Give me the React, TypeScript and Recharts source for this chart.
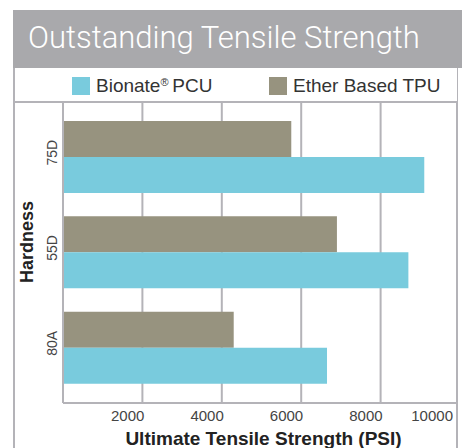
import React from 'react';
import { BarChart, Bar, XAxis, YAxis, CartesianGrid } from 'recharts';

const categories = ['75D', '55D', '80A'];
const etherTPU = [5750, 6900, 4300];
const bionatePCU = [9100, 8700, 6650];
const xTicks = [2000, 4000, 6000, 8000, 10000];
const seriesNames = ['Bionate\u00AE PCU', 'Ether Based TPU'];
const titleText = 'Outstanding Tensile Strength';
const xTitle = 'Ultimate Tensile Strength (PSI)';
const yTitle = 'Hardness';

const BIONATE = '#79cbdd';
const ETHER = '#97937f';
const FRAME = '#a9a9ac';
const GRID = '#b4b3b8';
const FONT = '"Liberation Sans", Arial, Helvetica, sans-serif';

const data = categories.map((c, i) => ({
  hardness: c,
  ether: etherTPU[i],
  bionate: bionatePCU[i],
}));

const XTick = (props: any) => {
  const { x, y, payload, index } = props;
  const last = index === xTicks.length - 1;
  return (
    <text
      x={last ? x - 7 : x + 2}
      y={y}
      dy={10}
      textAnchor="end"
      fontSize={15}
      fontFamily={FONT}
      fill="#444"
    >
      {payload.value}
    </text>
  );
};

const YTick = (props: any) => {
  const { y, payload } = props;
  const bx = 57;
  const by = y - 4;
  return (
    <text
      x={bx}
      y={by}
      textAnchor="middle"
      transform={`rotate(-90, ${bx}, ${by})`}
      fontSize={14}
      fontFamily={FONT}
      fill="#444"
    >
      {payload.value}
    </text>
  );
};

const renderName = (name: string) => {
  const parts = name.split('\u00AE');
  if (parts.length < 2) return name;
  return (
    <>
      {parts[0]}
      <span style={{ fontSize: 11, verticalAlign: 'top', lineHeight: '11px' }}>{'\u00AE'}</span>
      {parts[1].trimStart().length !== parts[1].length ? '\u2009' + parts[1].trimStart() : parts[1]}
    </>
  );
};

export default function App() {
  return (
    <div style={{ position: 'absolute', left: 0, top: 0, width: 462, height: 448, background: '#fff', overflow: 'hidden' }}>
      <BarChart
        width={462}
        height={448}
        data={data}
        layout="vertical"
        margin={{ top: 103, right: 2, bottom: 15, left: 13 }}
        barSize={36}
        barGap={0}
      >
        <CartesianGrid horizontal={false} stroke={GRID} strokeWidth={2} strokeDasharray="" />
        <XAxis
          type="number"
          domain={[0, 10000]}
          ticks={xTicks}
          height={30}
          tickLine={false}
          axisLine={{ stroke: GRID, strokeWidth: 2 }}
          tick={<XTick />}
          interval={0}
          label={{
            content: (p: any) => {
              const vb = p.viewBox;
              return (
                <text
                  x={vb.x + vb.width / 2 + 2}
                  y={vb.y + 42}
                  textAnchor="middle"
                  fontSize={19}
                  fontWeight="bold"
                  fontFamily={FONT}
                  fill="#222"
                >
                  {xTitle}
                </text>
              );
            },
          }}
        />
        <YAxis
          type="category"
          dataKey="hardness"
          width={50}
          tickLine={false}
          axisLine={{ stroke: GRID, strokeWidth: 2 }}
          tick={<YTick />}
          padding={{ top: 6, bottom: 8 }}
          label={{
            content: (p: any) => {
              const vb = p.viewBox;
              const bx = vb.x + 20;
              const by = vb.y + vb.height / 2 - 11;
              return (
                <text
                  x={bx}
                  y={by}
                  textAnchor="middle"
                  transform={`rotate(-90, ${bx}, ${by})`}
                  fontSize={18}
                  fontWeight="bold"
                  fontFamily={FONT}
                  fill="#222"
                >
                  {yTitle}
                </text>
              );
            },
          }}
        />
        <Bar dataKey="ether" name={seriesNames[1]} fill={ETHER} isAnimationActive={false} />
        <Bar dataKey="bionate" name={seriesNames[0]} fill={BIONATE} isAnimationActive={false} />
      </BarChart>

      {/* title band */}
      <div
        style={{
          position: 'absolute',
          left: 13,
          top: 10,
          width: 449,
          height: 58,
          background: FRAME,
        }}
      >
        <div
          style={{
            position: 'absolute',
            left: 15,
            top: 11,
            fontFamily: 'Roboto, "Liberation Sans", sans-serif',
            fontWeight: 300,
            fontSize: 31,
            lineHeight: '34px',
            color: '#fff',
            whiteSpace: 'nowrap',
          }}
        >
          {titleText}
        </div>
      </div>

      {/* legend band */}
      <div
        style={{
          position: 'absolute',
          left: 13,
          top: 68,
          width: 442,
          height: 33,
          borderLeft: `2px solid ${GRID}`,
          borderRight: `2px solid ${GRID}`,
          borderBottom: `2px solid ${GRID}`,
          background: '#fff',
        }}
      >
        {[
          { name: seriesNames[0], color: BIONATE, left: 57 },
          { name: seriesNames[1], color: ETHER, left: 254 },
        ].map((s) => (
          <div key={s.name} style={{ position: 'absolute', left: s.left, top: 9, display: 'flex', alignItems: 'center' }}>
            <div style={{ width: 18, height: 18, background: s.color }} />
            <div
              style={{
                marginLeft: 6,
                fontFamily: FONT,
                fontSize: 19,
                lineHeight: '18px',
                color: '#333',
                whiteSpace: 'nowrap',
              }}
            >
              {renderName(s.name)}
            </div>
          </div>
        ))}
      </div>

      {/* frame left line */}
      <div style={{ position: 'absolute', left: 13, top: 68, width: 2, height: 380, background: GRID }} />
      {/* frame right line + outside */}
      <div style={{ position: 'absolute', left: 456, top: 101, width: 2, height: 347, background: GRID }} />
      <div style={{ position: 'absolute', left: 458, top: 68, width: 4, height: 380, background: '#fff' }} />
    </div>
  );
}
